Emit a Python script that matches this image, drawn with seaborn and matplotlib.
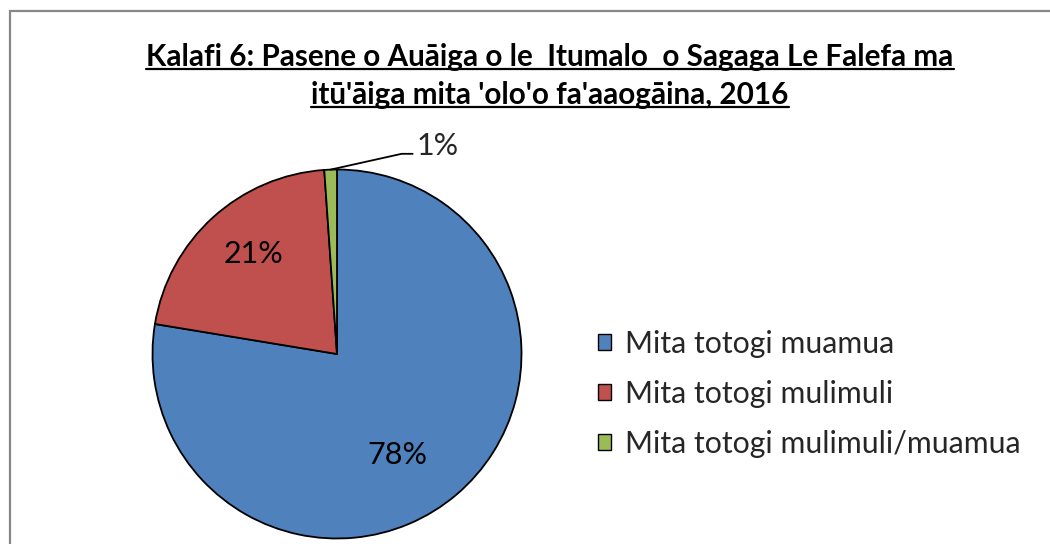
import matplotlib
matplotlib.use("Agg")
import matplotlib.pyplot as plt
import numpy as np
import seaborn as sns
from matplotlib.lines import Line2D
from matplotlib.patches import Rectangle

# Datos del grafico
categorias = ["Mita totogi muamua", "Mita totogi mulimuli", "Mita totogi mulimuli/muamua"]
valores = [77.6, 21.3, 1.1]
colores = ["#4F81BD", "#C0504D", "#9BBB59"]
titulo = ["Kalafi 6: Pasene o Auāiga o le  Itumalo  o Sagaga Le Falefa ma",
          "itū'āiga mita 'olo'o fa'aaogāina, 2016"]

sns.set_theme(style="white")
plt.rcParams["font.family"] = ["Lato", "DejaVu Sans"]

W, H = 1050, 544
fig = plt.figure(figsize=(W / 100, H / 100), dpi=100)
fig.patch.set_facecolor("white")

# borde del area del grafico (sigue fuera de la imagen a la derecha y abajo)
fig.add_artist(Rectangle((9.5 / W, -0.05), 1.1, 1.05 - 11 / H, transform=fig.transFigure,
                         fill=False, edgecolor="#878787", linewidth=1.6))

# ejes del pastel: centro (337, 354) radio 184.5 px
R = 184.5
cx, cy = 337, 354
ax = fig.add_axes([(cx - R) / W, (H - cy - R) / H, 2 * R / W, 2 * R / H])
pal = sns.color_palette(colores)
wedges, texts, autotexts = ax.pie(
    valores, colors=pal, startangle=90, counterclock=False,
    autopct="%.0f%%", pctdistance=0.66,
    wedgeprops=dict(edgecolor="black", linewidth=1.3),
    textprops=dict(fontsize=22, color="black"),
)
ax.set_xlim(-1, 1)
ax.set_ylim(-1, 1)
ax.set_aspect("equal")
ax.axis("off")

# ajustar posicion de etiquetas como en Excel
autotexts[0].set_position((0.325, -0.547))
autotexts[1].set_position((-0.455, 0.54))

# etiqueta externa del segmento pequeno con linea guia
small = autotexts[2]
small.set_visible(False)
w = wedges[2]
ang = np.deg2rad((w.theta1 + w.theta2) / 2)
x0, y0 = np.cos(ang), np.sin(ang)
ax.plot([x0, 0.35, 0.41], [y0, 1.085, 1.085], color="black", lw=1.3, clip_on=False)
ax.text(0.43, 1.125, small.get_text(), fontsize=22, ha="left", va="center", clip_on=False)

# titulo subrayado
fig.canvas.draw()
ys = [57, 95]
for linea, y in zip(titulo, ys):
    t = fig.text(550 / W, 1 - y / H, linea, ha="center", va="center",
                 fontsize=21.3, fontweight="bold", color="black")
    fig.canvas.draw()
    bb = t.get_window_extent().transformed(fig.transFigure.inverted())
    yl = 1 - (y + 12) / H
    fig.add_artist(Line2D([bb.x0, bb.x1], [yl, yl], transform=fig.transFigure,
                          color="black", lw=1.6))

# leyenda
handles = [Rectangle((0, 0), 1, 1, facecolor=c, edgecolor="black", linewidth=1.0) for c in pal]
fig.legend(handles, categorias, loc="center left", bbox_to_anchor=(571 / W, 1 - 394 / H),
           frameon=False, fontsize=21.8, handlelength=0.43, handleheight=0.43,
           handletextpad=0.46, labelspacing=0.72)

fig.savefig("out.png", dpi=100, facecolor="white")
